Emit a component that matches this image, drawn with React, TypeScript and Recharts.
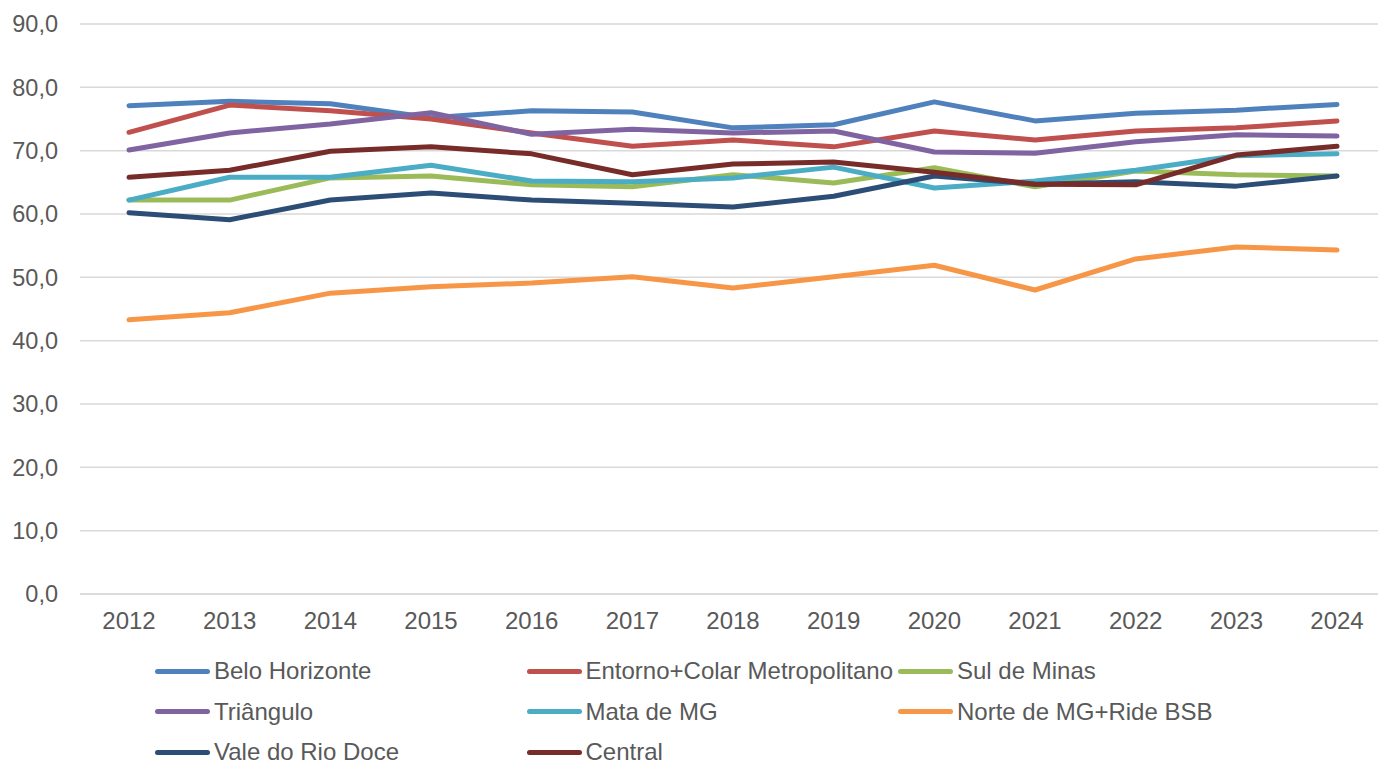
import { LineChart, Line, XAxis, YAxis, CartesianGrid } from 'recharts';

const years = ['2012', '2013', '2014', '2015', '2016', '2017', '2018', '2019', '2020', '2021', '2022', '2023', '2024'];

const beloHorizonte = [77.1, 77.8, 77.4, 75.2, 76.3, 76.1, 73.6, 74.1, 77.7, 74.7, 75.9, 76.4, 77.3];
const entornoColar = [72.9, 77.2, 76.3, 75.0, 72.8, 70.7, 71.7, 70.6, 73.1, 71.7, 73.1, 73.6, 74.7];
const sulDeMinas = [62.2, 62.2, 65.7, 66.0, 64.6, 64.3, 66.2, 64.9, 67.3, 64.3, 66.8, 66.2, 66.0];
const triangulo = [70.1, 72.8, 74.2, 76.0, 72.6, 73.4, 72.8, 73.1, 69.8, 69.6, 71.4, 72.5, 72.3];
const mataDeMG = [62.2, 65.8, 65.8, 67.7, 65.2, 65.1, 65.7, 67.4, 64.1, 65.2, 66.9, 69.2, 69.5];
const norteRide = [43.3, 44.4, 47.5, 48.5, 49.1, 50.1, 48.3, 50.1, 51.9, 48.0, 52.9, 54.8, 54.3];
const valeRioDoce = [60.2, 59.1, 62.2, 63.3, 62.2, 61.7, 61.1, 62.8, 66.0, 64.7, 65.1, 64.4, 66.0];
const central = [65.8, 66.9, 69.9, 70.6, 69.5, 66.2, 67.9, 68.2, 66.6, 64.7, 64.6, 69.3, 70.7];

const yTicks = [0, 10, 20, 30, 40, 50, 60, 70, 80, 90];

const series = [
  { key: 'bh', name: 'Belo Horizonte', color: '#4F81BD', values: beloHorizonte },
  { key: 'entorno', name: 'Entorno+Colar Metropolitano', color: '#C0504D', values: entornoColar },
  { key: 'sul', name: 'Sul de Minas', color: '#9BBB59', values: sulDeMinas },
  { key: 'tri', name: 'Triângulo', color: '#8064A2', values: triangulo },
  { key: 'mata', name: 'Mata de MG', color: '#4BACC6', values: mataDeMG },
  { key: 'norte', name: 'Norte de MG+Ride BSB', color: '#F79646', values: norteRide },
  { key: 'vale', name: 'Vale do Rio Doce', color: '#2C4D75', values: valeRioDoce },
  { key: 'central', name: 'Central', color: '#772C2A', values: central },
];

const data = years.map((year, i) => {
  const row: Record<string, string | number> = { year };
  series.forEach((s) => {
    row[s.key] = s.values[i];
  });
  return row;
});

const font = '"Liberation Sans", Arial, sans-serif';
const textColor = '#595959';

const App = () => {
  return (
    <div style={{ position: 'absolute', left: 0, top: 0, width: 1378, height: 767, overflow: 'hidden', fontFamily: font }}>
      <LineChart width={1378} height={767} data={data} margin={{ top: 24, right: 0, left: 0, bottom: 113 }}>
        <CartesianGrid vertical={false} stroke="#d9d9d9" strokeWidth={1.5} />
        <XAxis
          dataKey="year"
          padding={{ left: 49, right: 41 }}
          axisLine={{ stroke: '#d9d9d9', strokeWidth: 1.5 }}
          tickLine={false}
          tickMargin={12}
          height={60}
          tick={{ fontSize: 24, fill: textColor, fontFamily: font }}
        />
        <YAxis
          domain={[0, 90]}
          ticks={yTicks}
          width={80}
          axisLine={false}
          tickLine={false}
          tickMargin={16}
          tickFormatter={(v: number) => v.toFixed(1).replace('.', ',')}
          tick={{ fontSize: 23.5, fill: textColor, fontFamily: font }}
        />
        {series.map((s) => (
          <Line
            key={s.key}
            type="linear"
            dataKey={s.key}
            name={s.name}
            stroke={s.color}
            strokeWidth={5}
            strokeLinecap="round"
            strokeLinejoin="round"
            dot={false}
            activeDot={false}
            isAnimationActive={false}
          />
        ))}
      </LineChart>

      {/* legenda em 3 colunas */}
      {series.map((s, i) => {
        const col = i % 3;
        const row = Math.floor(i / 3);
        const left = 155 + col * 371.5;
        const top = 671 + row * 40.5;
        return (
          <div key={s.key} style={{ position: 'absolute', left, top: top - 10, height: 20, display: 'flex', alignItems: 'center' }}>
            <div style={{ width: 55, height: 5, borderRadius: 3, background: s.color }} />
            <span style={{ marginLeft: 4, fontSize: 24, lineHeight: '20px', color: textColor, whiteSpace: 'nowrap' }}>{s.name}</span>
          </div>
        );
      })}
    </div>
  );
};

export default App;
